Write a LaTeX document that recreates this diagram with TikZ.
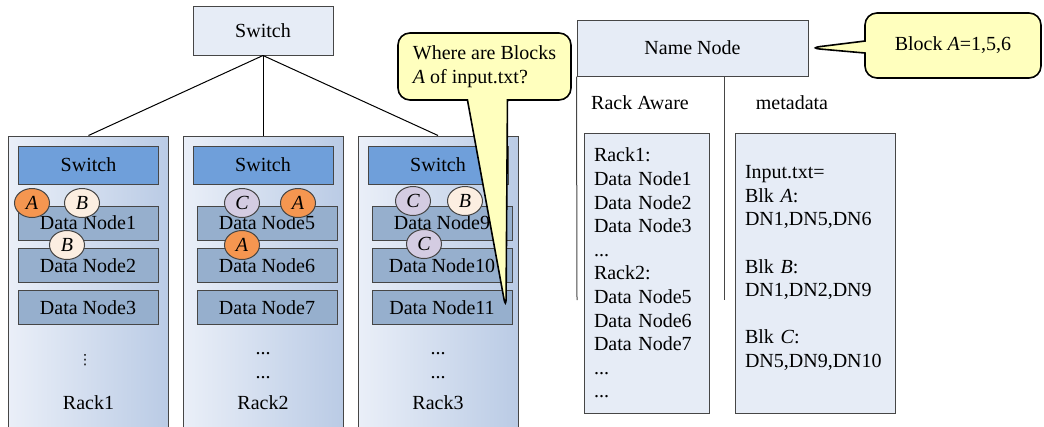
\documentclass[tikz,border=0pt]{standalone}
\usepackage{fontspec}
\setmainfont{Liberation Serif}
\newfontfamily\symfont{DejaVu Sans}
\usetikzlibrary{shapes.geometric,shapes.callouts}

\definecolor{linegray}{RGB}{70,70,70}
\definecolor{paleblue}{RGB}{230,236,246}
\definecolor{swblue}{RGB}{111,159,218}
\definecolor{dnblue}{RGB}{150,175,205}
\definecolor{rackL}{RGB}{234,239,248}
\definecolor{rackR}{RGB}{186,203,229}
\definecolor{tipyellow}{RGB}{255,255,190}
\definecolor{blkA}{RGB}{245,150,80}
\definecolor{blkB}{RGB}{252,238,225}
\definecolor{blkC}{RGB}{212,204,226}

\tikzset{
  topbox/.style={draw=linegray,line width=1pt,fill=paleblue},
  rack/.style={draw=linegray,line width=1pt,left color=rackL,right color=rackR,minimum width=160,minimum height=296},
  rackswitch/.style={draw=linegray,line width=1pt,fill=swblue,minimum width=140,minimum height=38},
  datanode/.style={draw=linegray,line width=1pt,fill=dnblue,minimum width=140,minimum height=34},
  blk/.style={ellipse,draw=linegray,line width=1pt,inner sep=0pt,minimum width=35,minimum height=29,font=\fontsize{20}{24}\selectfont\itshape},
  listbox/.style={draw=linegray,line width=1pt,fill=paleblue,align=left,inner xsep=10,minimum height=280},
  tip/.style={rectangle callout,rounded corners=12,draw=black,line width=1.6pt,fill=tipyellow}
}

\begin{document}
\begin{tikzpicture}[x=1pt,y=-1pt,font=\fontsize{20}{23.6}\selectfont]
  \useasboundingbox (0,0) rectangle (1044,426);

  % top switch and racks
  \node[topbox,minimum width=140,minimum height=49] (sw) at (263,30.5) {Switch};
  \foreach \i/\x in {1/88.5,2/263,3/438}{
    \node[rack] (rack\i) at (\x,284) {};
    \draw[line width=1pt] (sw.south) -- (rack\i.north);
    \node[rackswitch] (rsw\i) at (\x,165) {Switch};
    \node (rlab\i) at (\x,403) {Rack\i};
  }
  \foreach \n/\x/\y in {1/88/223,2/88/265.5,3/88/307.5,5/267/223,6/267/265.5,7/267/307.5,9/442/223,10/442/265.5,11/442/307.5}
    \node[datanode] (dn\n) at (\x,\y) {Data Node\n};
  \node[font=\symfont\fontsize{14}{14}\selectfont] (dots1) at (85,360) {⋮};
  \foreach \i/\x in {2/263,3/438}{
    \node (dotsa\i) at (\x,354) {...};
    \node (dotsb\i) at (\x,378) {...};
  }

  % blocks
  \foreach \n/\t/\c/\x/\y in {a1/A/blkA/32/203,b1/B/blkB/82/203,b2/B/blkB/67/245,
      c5/C/blkC/242/203,a5/A/blkA/298/203,a6/A/blkA/242/245,
      c9/C/blkC/413/201,b9/B/blkB/465/201,c10/C/blkC/424/244}
    \node[blk,fill=\c] (\n) at (\x,\y) {\t};

  % name node
  \node[topbox,minimum width=231,minimum height=56] (nn) at (692.5,48) {Name Node};
  \coordinate (vl) at (577,300);
  \coordinate (vm) at (724,300);
  \draw[line width=1pt,linegray] (nn.south west) -- (vl);
  \draw[line width=1pt,linegray] (nn.south west -| vm) -- (vm);
  \node (ra) at (640,103) {Rack Aware};
  \node (md) at (792,103) {metadata};
  \node[listbox,text width=105] (ralist) at (646.5,273)
    {Rack1:\\Data Node1\\Data Node2\\Data Node3\\...\\Rack2:\\Data Node5\\Data Node6\\Data Node7\\...\\...};
  \node[listbox,text width=140] (mdlist) at (815,273)
    {~\\Input.txt=\\Blk \textit{A}:\\DN1,DN5,DN6\\~\\Blk \textit{B}:\\DN1,DN2,DN9\\~\\Blk \textit{C}:\\DN5,DN9,DN10\\~};

  % callouts
  \coordinate (tip1) at (506,310);
  \node[tip,minimum width=173,minimum height=67,align=left,callout pointer width=40,
        callout absolute pointer={(tip1)}] (ask) at (484.5,66.5)
    {Where are Blocks\\\textit{A} of input.txt?};
  \node[tip,minimum width=176,minimum height=65,callout pointer width=12,
        callout absolute pointer={(nn.east)}] (ans) at (953,45.5)
    {Block \textit{A}=1,5,6};
\end{tikzpicture}
\end{document}
